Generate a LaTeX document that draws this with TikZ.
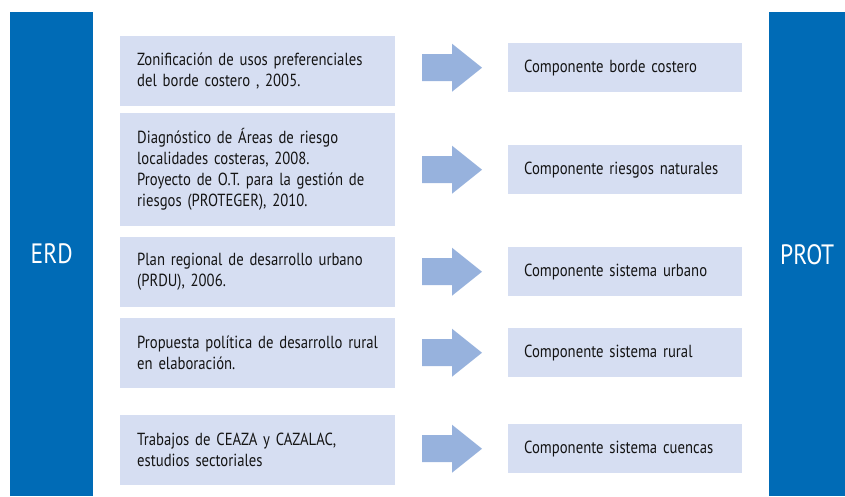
\documentclass[tikz,border=0pt]{standalone}
\usepackage{fontspec}
\setmainfont{PT Sans}[FakeStretch=0.84]
\usetikzlibrary{positioning}
\definecolor{barblue}{HTML}{006BB6}
\definecolor{boxfill}{HTML}{D6DEF2}
\definecolor{arrowblue}{HTML}{97B2DD}
\definecolor{textgray}{HTML}{141414}
\newcommand{\boxfont}{\fontsize{17.5}{21}\selectfont\spaceskip=2.8pt plus 1pt minus 0.5pt\relax}

\begin{document}
\begin{tikzpicture}[x=1pt,y=-1pt,
	bar/.style={fill=barblue, anchor=north west, inner sep=0pt, text=white, font=\fontsize{28}{28}\selectfont},
	srcbox/.style={fill=boxfill, anchor=north west, inner xsep=17pt, inner ysep=0pt, text width=241pt, align=left, text=textgray, font=\boxfont},
	compbox/.style={fill=boxfill, anchor=north west, inner xsep=16pt, inner ysep=0pt, text width=202pt, minimum height=49pt, align=left, text=textgray, font=\boxfont}]
	\useasboundingbox (0,0) rectangle (845,496);
	% side bars
	\node[bar, minimum width=83pt, minimum height=484pt] (erd) at (10,12) {ERD};
	\node[bar, minimum width=76pt, minimum height=484pt] (prot) at (769,12) {PROT};
	% instrumentos
	\node[srcbox, minimum height=70pt] (s1) at (120,36) {Zonificación de usos preferenciales\\del borde costero , 2005.};
	\node[srcbox, minimum height=113pt] (s2) at (120,113) {Diagnóstico de Áreas de riesgo\\localidades costeras, 2008.\\Proyecto de O.T. para la gestión de\\riesgos (PROTEGER), 2010.};
	\node[srcbox, minimum height=70pt] (s3) at (120,237) {Plan regional de desarrollo urbano\\(PRDU), 2006.};
	\node[srcbox, minimum height=70pt] (s4) at (120,318) {Propuesta política de desarrollo rural\\en elaboración.};
	\node[srcbox, minimum height=70pt] (s5) at (120,415) {Trabajos de CEAZA y CAZALAC,\\estudios sectoriales};
	% componentes
	\node[compbox] (c1) at (508,43) {Componente borde costero};
	\node[compbox] (c2) at (508,145) {Componente riesgos naturales};
	\node[compbox] (c3) at (508,247) {Componente sistema urbano};
	\node[compbox] (c4) at (508,328) {Componente sistema rural};
	\node[compbox] (c5) at (508,424) {Componente sistema cuencas};
	% flechas
	\foreach \n in {1,...,5}
		\fill[arrowblue] ([shift={(-86,-13.5)}]c\n.west) -- ([shift={(-56,-13.5)}]c\n.west) -- ([shift={(-56,-24)}]c\n.west)
			-- ([shift={(-26,0)}]c\n.west) -- ([shift={(-56,24)}]c\n.west) -- ([shift={(-56,13.5)}]c\n.west)
			-- ([shift={(-86,13.5)}]c\n.west) -- cycle;
\end{tikzpicture}
\end{document}
